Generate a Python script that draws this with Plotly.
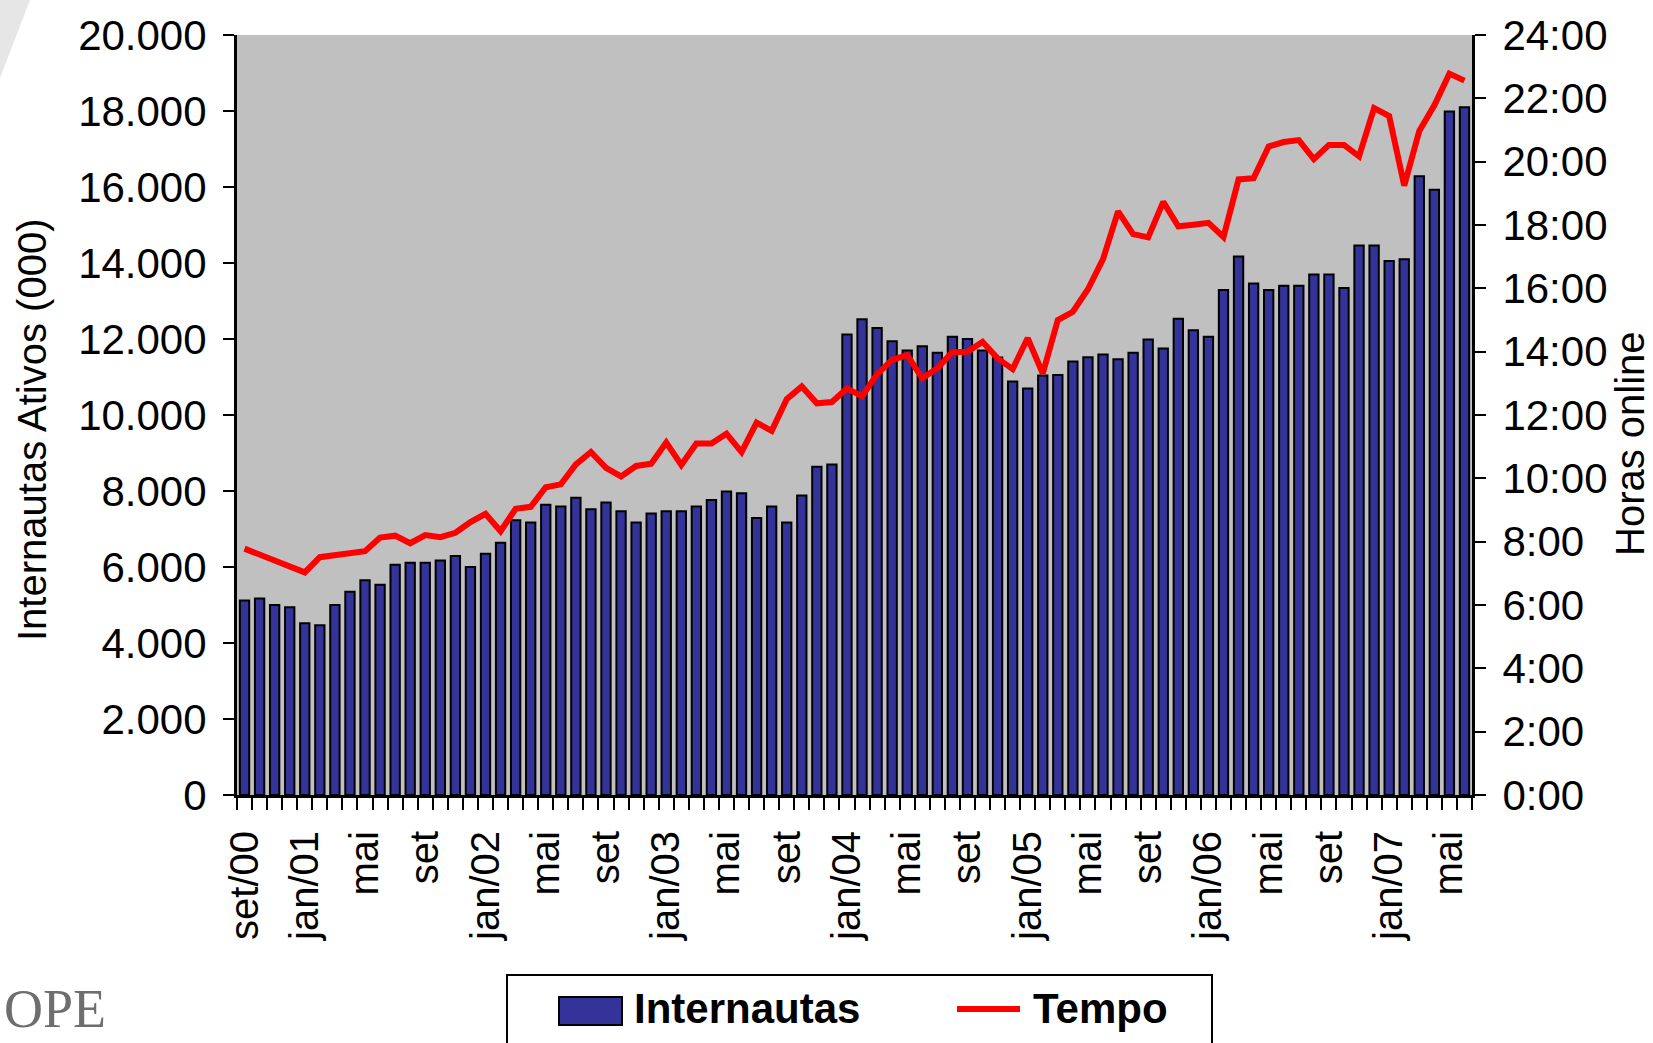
import plotly.graph_objects as go

# ---------------- data ----------------
MONTH_ABBR = ["jan", "fev", "mar", "abr", "mai", "jun", "jul", "ago", "set", "out", "nov", "dez"]
START = (2000, 8)   # set/00
END = (2007, 5)     # jun/07

CATEGORIES = []
for year in range(START[0], END[0] + 1):
    for m in range(12):
        if (year, m) < START or (year, m) > END:
            continue
        CATEGORIES.append(f"{MONTH_ABBR[m]}/{str(year)[2:]}")

TICK_LABELS = ["set/00", "jan/01", "mai", "set", "jan/02", "mai", "set", "jan/03", "mai", "set",
               "jan/04", "mai", "set", "jan/05", "mai", "set", "jan/06", "mai", "set", "jan/07", "mai"]

# Internautas ativos (milhares)
INTERNAUTAS = [
    5120, 5170, 5000, 4940, 4520, 4470, 5000, 5350, 5650, 5530,
    6060, 6110, 6110, 6170, 6290, 6000, 6350, 6640, 7230, 7170,
    7640, 7590, 7820, 7520, 7700, 7470, 7170, 7410, 7470, 7470,
    7590, 7760, 7990, 7940, 7290, 7590, 7170, 7880, 8640, 8700,
    12120, 12520, 12290, 11940, 11700, 11810, 11640, 12060, 12000, 11700,
    11510, 10880, 10700, 11040, 11050, 11410, 11520, 11590, 11470, 11640,
    11990, 11750, 12530, 12230, 12060, 13290, 14170, 13460, 13290, 13400,
    13400, 13700, 13700, 13340, 14460, 14460, 14050, 14100, 16280, 15930,
    17990, 18100,
]

# Tempo online (horas, decimal)
TEMPO_HORAS = [
    7.78, 7.59, 7.41, 7.17, 7.03, 7.51, 7.57, 7.63, 7.70, 8.13,
    8.19, 7.95, 8.21, 8.14, 8.28, 8.62, 8.88, 8.33, 9.04, 9.10,
    9.72, 9.81, 10.44, 10.83, 10.33, 10.06, 10.39, 10.46, 11.13, 10.42,
    11.10, 11.10, 11.41, 10.83, 11.76, 11.50, 12.50, 12.90, 12.37, 12.41,
    12.84, 12.59, 13.29, 13.74, 13.89, 13.16, 13.48, 13.98, 14.00, 14.31,
    13.79, 13.45, 14.43, 13.31, 15.00, 15.26, 15.97, 16.92, 18.43, 17.71,
    17.61, 18.73, 17.96, 18.01, 18.07, 17.62, 19.44, 19.48, 20.48, 20.62,
    20.68, 20.08, 20.53, 20.53, 20.17, 21.69, 21.44, 19.24, 20.97, 21.78,
    22.78, 22.56,
]

HOUR_TICKS = list(range(0, 25, 2))
HOUR_TEXT = [f"{h}:00" for h in HOUR_TICKS]

X_TICKTEXT = [TICK_LABELS[i // 4] if i % 4 == 0 else "" for i in range(len(CATEGORIES))]

# ---------------- styles ----------------
BAR_COLOR = "#333399"
LINE_COLOR = "#ff0000"
BG = "#c0c0c0"
FONT = "Liberation Sans, Arial, sans-serif"

W, H = 1653, 1043
L, R, T, B = 237, 1472, 35, 795


def px(xp):
    return (xp - L) / (R - L)


def py(yp):
    return (B - yp) / (B - T)


fig = go.Figure()
fig.add_trace(go.Bar(
    x=CATEGORIES, y=INTERNAUTAS, name="Internautas", width=0.62,
    marker=dict(color=BAR_COLOR, line=dict(color="black", width=2)),
    xaxis="x", yaxis="y", showlegend=False,
))
fig.add_trace(go.Scatter(
    x=CATEGORIES, y=TEMPO_HORAS, name="Tempo", mode="lines",
    line=dict(color=LINE_COLOR, width=6),
    xaxis="x", yaxis="y2", showlegend=False,
))

xcommon = dict(type="category", categoryorder="array", categoryarray=CATEGORIES,
               range=[-0.5, len(CATEGORIES) - 0.5], showgrid=False, zeroline=False,
               tickmode="array", tickvals=CATEGORIES, tickson="boundaries",
               tickcolor="black", tickwidth=2)

fig.update_layout(
    width=W, height=H,
    margin=dict(l=L, r=W - R, t=T, b=H - B, pad=0),
    paper_bgcolor="white", plot_bgcolor=BG,
    separators=",.",
    font=dict(family=FONT, color="black"),
    xaxis=dict(**xcommon, anchor="y", ticktext=X_TICKTEXT, ticks="outside", ticklen=12,
               showline=True, linecolor="black", linewidth=3, tickangle=-90,
               tickfont=dict(size=40, family=FONT), ticklabelstandoff=17),
    xaxis2=dict(**xcommon, overlaying="x", anchor="y", ticktext=[""] * len(CATEGORIES),
                ticks="inside", ticklen=13, showticklabels=False, showline=False),
    yaxis=dict(range=[0, 20000], tickmode="linear", tick0=0, dtick=2000, tickformat=",d",
               ticks="outside", ticklen=11, tickwidth=2, tickcolor="black",
               showline=True, linecolor="black", linewidth=3, showgrid=False, zeroline=False,
               tickfont=dict(size=42, family=FONT), ticklabelstandoff=8, anchor="x"),
    yaxis3=dict(range=[0, 20000], tickmode="linear", tick0=0, dtick=2000, overlaying="y",
                side="left", anchor="x", ticks="inside", ticklen=12, tickwidth=2,
                tickcolor="black", showticklabels=False, showline=False, showgrid=False,
                zeroline=False),
    yaxis2=dict(range=[0, 24], tickmode="array", tickvals=HOUR_TICKS, ticktext=HOUR_TEXT,
                overlaying="y", side="right", anchor="x",
                ticks="outside", ticklen=11, tickwidth=2, tickcolor="black",
                showline=True, linecolor="black", linewidth=3, showgrid=False, zeroline=False,
                tickfont=dict(size=42, family=FONT), ticklabelstandoff=8),
    yaxis4=dict(range=[0, 24], tickmode="array", tickvals=HOUR_TICKS, overlaying="y",
                side="right", anchor="x", ticks="inside", ticklen=12, tickwidth=2,
                tickcolor="black", showticklabels=False, showline=False, showgrid=False,
                zeroline=False),
)

# axis titles
fig.add_annotation(text="Internautas Ativos (000)", xref="paper", yref="paper",
                   x=px(32), y=py(430), textangle=-90, showarrow=False,
                   xanchor="center", yanchor="middle", font=dict(size=40, family=FONT))
fig.add_annotation(text="Horas online", xref="paper", yref="paper",
                   x=px(1630), y=py(444), textangle=-90, showarrow=False,
                   xanchor="center", yanchor="middle", font=dict(size=40, family=FONT))

# legend (drawn manually to match the large swatches)
fig.add_shape(type="rect", xref="paper", yref="paper", x0=px(507), x1=px(1212),
              y0=py(975), y1=py(1070), line=dict(color="black", width=2), fillcolor="white",
              layer="above")
fig.add_shape(type="rect", xref="paper", yref="paper", x0=px(559), x1=px(622),
              y0=py(997), y1=py(1025), line=dict(color="black", width=2), fillcolor=BAR_COLOR,
              layer="above")
fig.add_shape(type="line", xref="paper", yref="paper", x0=px(957), x1=px(1020),
              y0=py(1009), y1=py(1009), line=dict(color=LINE_COLOR, width=6), layer="above")
fig.add_annotation(text="<b>Internautas</b>", xref="paper", yref="paper", x=px(632), y=py(1008),
                   xanchor="left", yanchor="middle", showarrow=False,
                   font=dict(size=42, family=FONT))
fig.add_annotation(text="<b>Tempo</b>", xref="paper", yref="paper", x=px(1031), y=py(1008),
                   xanchor="left", yanchor="middle", showarrow=False,
                   font=dict(size=42, family=FONT))

# logo fragment and watermark at the slide edges
fig.add_annotation(text="OPE", xref="paper", yref="paper", x=px(2), y=py(1041),
                   xanchor="left", yanchor="bottom", showarrow=False,
                   font=dict(size=54, family="Liberation Serif, DejaVu Serif, serif", color="#6e6e6e"))
fig.add_shape(type="path", xref="paper", yref="paper",
              path=f"M {px(0)},{py(0)} L {px(30)},{py(0)} L {px(0)},{py(78)} Z",
              fillcolor="#e6e6e6", line=dict(width=0), layer="below")

fig.write_html("out.html", config={"displayModeBar": False},
               post_script="document.body.style.margin='0px';document.body.style.overflow='hidden';")
